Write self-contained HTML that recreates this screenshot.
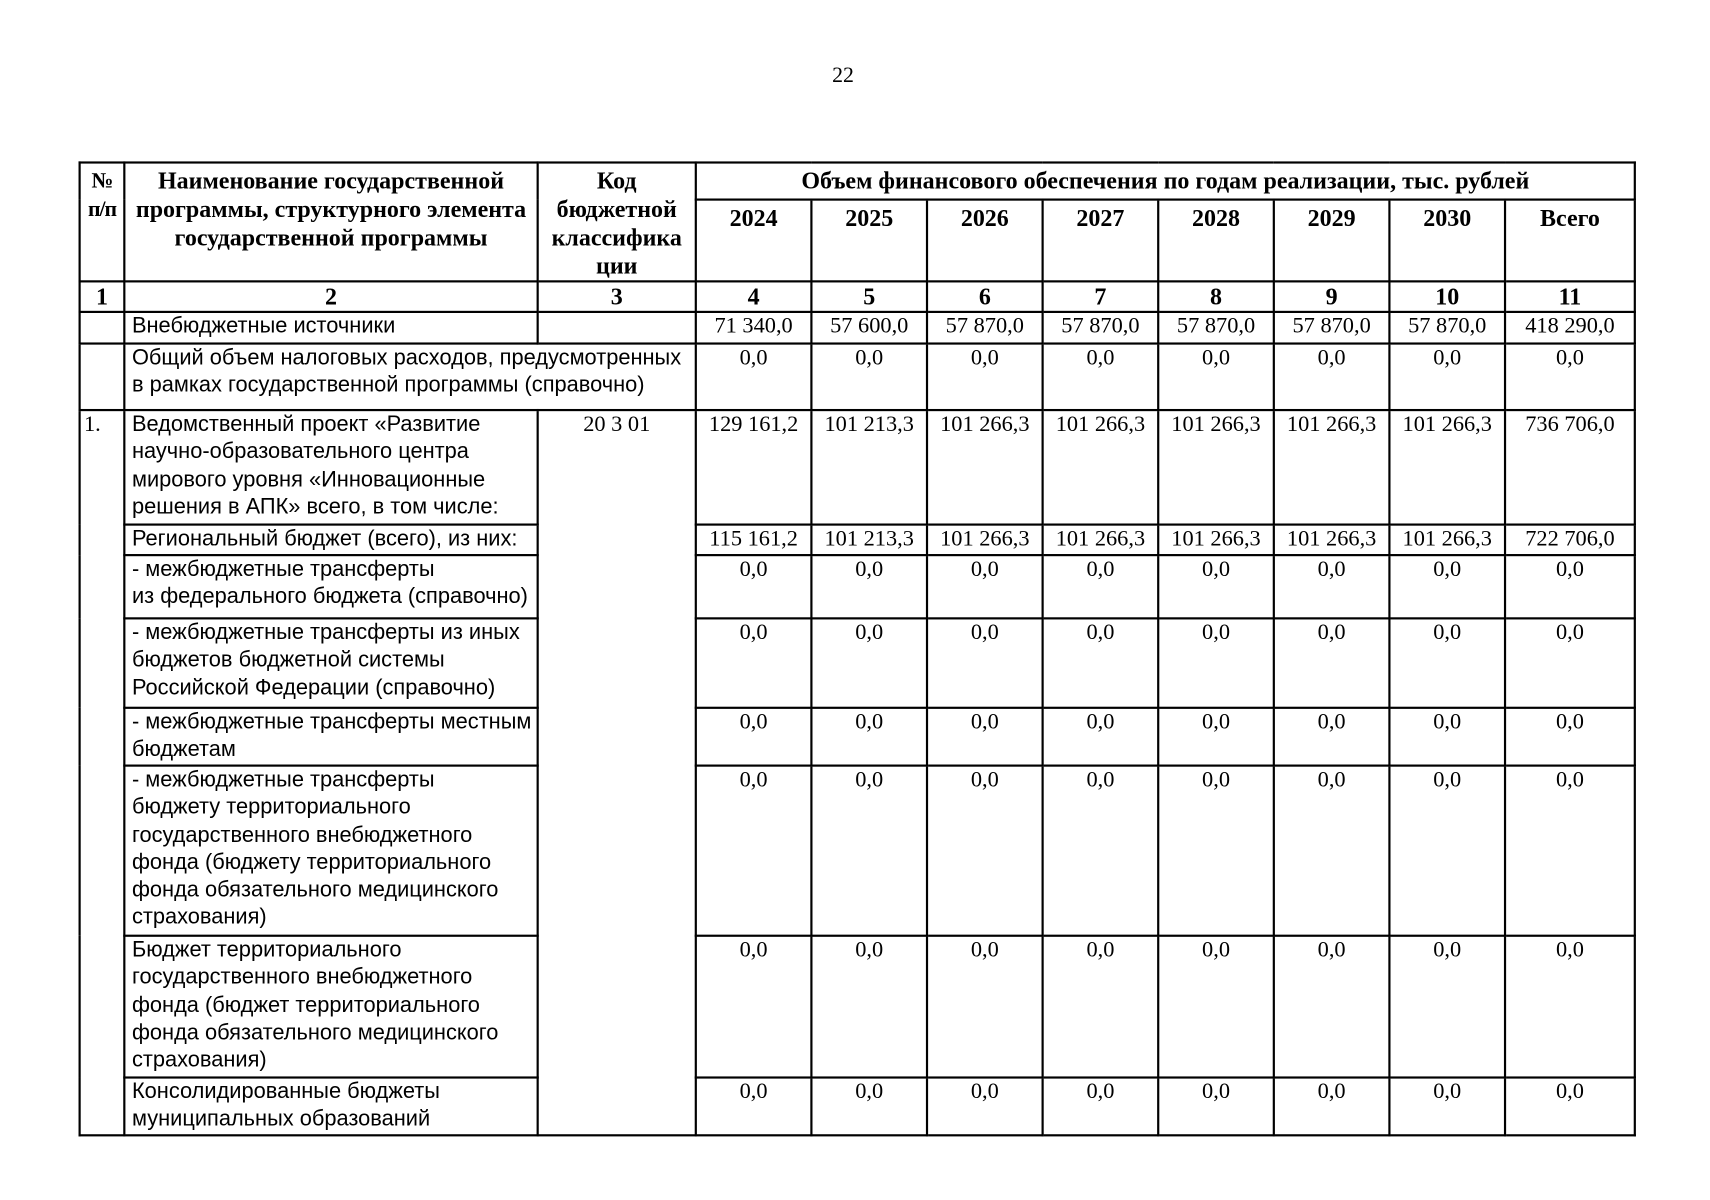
<!DOCTYPE html>
<html><head><meta charset="utf-8"><style>
html,body{margin:0;padding:0;background:#fff;width:1710px;height:1200px;overflow:hidden}
#w{position:absolute;left:0;top:0;width:1568px;height:1100px;transform:scale(1.0906);transform-origin:0 0}
.pn{position:absolute;left:763px;top:58px;font:20px "Liberation Serif",serif}
table{position:absolute;left:72px;top:148px;border-collapse:collapse;table-layout:fixed;width:1426px}
td{border:2px solid #000;padding:0 4px;vertical-align:top;font:20.5px/25px "Liberation Serif",serif;text-align:center;overflow:hidden;white-space:nowrap}
th{border:2px solid #000;padding:0 0;vertical-align:top;font:bold 22px/26px "Liberation Serif",serif;text-align:center;white-space:nowrap;overflow:visible}
td.t{text-align:left;font-family:"Liberation Sans Narrow","Liberation Sans",sans-serif;font-size:20px;line-height:25.3px;padding-left:6px;letter-spacing:0px;overflow:visible}
</style></head><body><div id="w">
<div class="pn">22</div>
<table>
<colgroup><col style="width:41px"><col style="width:379px"><col style="width:145px"><col style="width:106px"><col style="width:106px"><col style="width:106px"><col style="width:106px"><col style="width:106px"><col style="width:106px"><col style="width:106px"><col style="width:119px"></colgroup>
<tr style="height:34px"><th rowspan="2" style="padding-top:3px;font-size:20px;letter-spacing:-1px">№<br>п/п</th><th rowspan="2" style="padding-top:3px">Наименование государственной<br>программы, структурного элемента<br>государственной программы</th><th rowspan="2" style="padding-top:3px">Код<br>бюджетной<br>классифика<br>ции</th><th colspan="8" style="padding-top:3px">Объем финансового обеспечения по годам реализации, тыс. рублей</th></tr>
<tr style="height:74px"><th style="padding-top:3px">2024</th><th style="padding-top:3px">2025</th><th style="padding-top:3px">2026</th><th style="padding-top:3px">2027</th><th style="padding-top:3px">2028</th><th style="padding-top:3px">2029</th><th style="padding-top:3px">2030</th><th style="padding-top:3px">Всего</th></tr>
<tr style="height:28px"><th>1</th><th>2</th><th>3</th><th>4</th><th>5</th><th>6</th><th>7</th><th>8</th><th>9</th><th>10</th><th>11</th></tr>
<tr style="height:29px"><td></td><td class="t">Внебюджетные источники</td><td></td><td>71 340,0</td><td>57 600,0</td><td>57 870,0</td><td>57 870,0</td><td>57 870,0</td><td>57 870,0</td><td>57 870,0</td><td>418 290,0</td></tr>
<tr style="height:61px"><td></td><td class="t" colspan="2">Общий объем налоговых расходов, предусмотренных<br>в рамках государственной программы (справочно)</td><td>0,0</td><td>0,0</td><td>0,0</td><td>0,0</td><td>0,0</td><td>0,0</td><td>0,0</td><td>0,0</td></tr>
<tr style="height:105px"><td rowspan="8" style="text-align:left;padding-left:3px">1.</td><td class="t">Ведомственный проект «Развитие<br>научно-образовательного центра<br>мирового уровня «Инновационные<br>решения в АПК» всего, в том числе:</td><td rowspan="8">20 3 01</td><td>129 161,2</td><td>101 213,3</td><td>101 266,3</td><td>101 266,3</td><td>101 266,3</td><td>101 266,3</td><td>101 266,3</td><td>736 706,0</td></tr>
<tr style="height:28px"><td class="t">Региональный бюджет (всего), из них:</td><td>115 161,2</td><td>101 213,3</td><td>101 266,3</td><td>101 266,3</td><td>101 266,3</td><td>101 266,3</td><td>101 266,3</td><td>722 706,0</td></tr>
<tr style="height:58px"><td class="t">- межбюджетные трансферты<br>из федерального бюджета (справочно)</td><td>0,0</td><td>0,0</td><td>0,0</td><td>0,0</td><td>0,0</td><td>0,0</td><td>0,0</td><td>0,0</td></tr>
<tr style="height:82px"><td class="t">- межбюджетные трансферты из иных<br>бюджетов бюджетной системы<br>Российской Федерации (справочно)</td><td>0,0</td><td>0,0</td><td>0,0</td><td>0,0</td><td>0,0</td><td>0,0</td><td>0,0</td><td>0,0</td></tr>
<tr style="height:53px"><td class="t">- межбюджетные трансферты местным<br>бюджетам</td><td>0,0</td><td>0,0</td><td>0,0</td><td>0,0</td><td>0,0</td><td>0,0</td><td>0,0</td><td>0,0</td></tr>
<tr style="height:156px"><td class="t">- межбюджетные трансферты<br>бюджету территориального<br>государственного внебюджетного<br>фонда (бюджету территориального<br>фонда обязательного медицинского<br>страхования)</td><td>0,0</td><td>0,0</td><td>0,0</td><td>0,0</td><td>0,0</td><td>0,0</td><td>0,0</td><td>0,0</td></tr>
<tr style="height:130px"><td class="t">Бюджет территориального<br>государственного внебюджетного<br>фонда (бюджет территориального<br>фонда обязательного медицинского<br>страхования)</td><td>0,0</td><td>0,0</td><td>0,0</td><td>0,0</td><td>0,0</td><td>0,0</td><td>0,0</td><td>0,0</td></tr>
<tr style="height:51px"><td class="t">Консолидированные бюджеты<br>муниципальных образований</td><td>0,0</td><td>0,0</td><td>0,0</td><td>0,0</td><td>0,0</td><td>0,0</td><td>0,0</td><td>0,0</td></tr>
</table>
</div></body></html>
